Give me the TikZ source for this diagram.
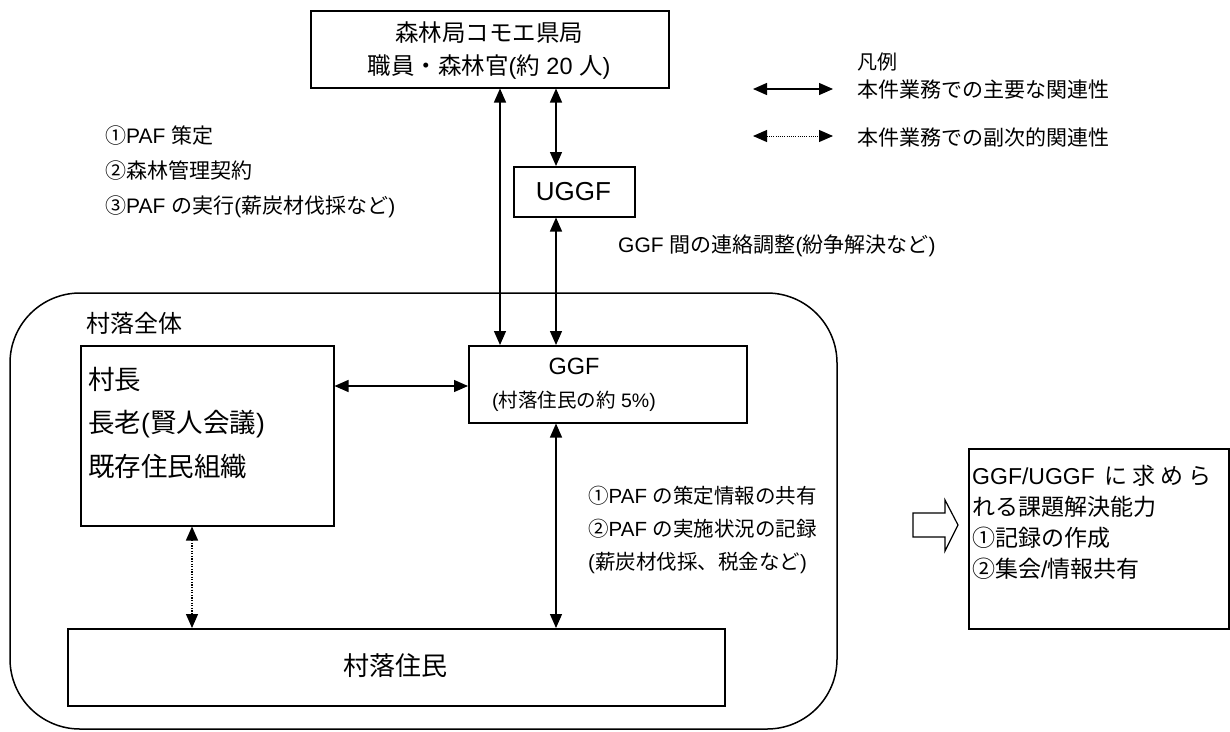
\documentclass[tikz,border=0pt]{standalone}
\usepackage{fontspec}
\setmainfont{Noto Sans CJK JP}
\newfontfamily\latfont{Liberation Sans}
\newcommand{\latn}[1]{{\latfont #1}}
\usetikzlibrary{arrows.meta}
\tikzset{
  box/.style={draw, line width=1.5pt, rectangle, inner sep=0pt, anchor=north west},
  arr/.style={line width=1.3pt, {Triangle[length=14pt,width=12pt]}-{Triangle[length=14pt,width=12pt]}},
  dotarr/.style={line width=1.3pt, dash pattern=on 1.3pt off 1.3pt, {Triangle[length=14pt,width=12pt]}-{Triangle[length=14pt,width=12pt]}},
  txt/.style={inner sep=0pt, anchor=west, align=left},
}
\begin{document}
\begin{tikzpicture}[x=1pt,y=-1pt]
\useasboundingbox (0,0) rectangle (1230,731);
% village frame
\draw[line width=1.5pt, rounded corners=70pt] (10,293) rectangle (837,729);
\node[txt, font=\fontsize{24}{28}\selectfont] (vall) at (86,323) {村落全体};
% boxes
\node[box, minimum width=358pt, minimum height=77pt] (top) at (310,10) {};
\node[inner sep=0pt, align=center, font=\fontsize{23.5}{33}\selectfont] (topt) at (489,51) {森林局コモエ県局\\職員・森林官\latn{(}約\latn{ 20 }人\latn{)}};
\node[box, minimum width=121pt, minimum height=50pt] (uggf) at (513,166) {};
\node[inner sep=0pt, font=\latfont\fontsize{26}{30}\selectfont] (uggft) at (573.5,192) {UGGF};
\node[box, minimum width=278pt, minimum height=77pt] (ggf) at (468,345) {};
\node[inner sep=0pt, font=\latfont\fontsize{23.5}{26}\selectfont] (ggft) at (574,366) {GGF};
\node[inner sep=0pt, font=\fontsize{19.5}{22}\selectfont] (ggft2) at (574,401) {\latn{(}村落住民の約\latn{ 5\%)}};
\node[box, minimum width=253pt, minimum height=180pt] (chief) at (80,345) {};
\node[txt, font=\fontsize{26.5}{43.5}\selectfont] (chieft) at (88,423) {村長\\長老\latn{(}賢人会議\latn{)}\\既存住民組織};
\node[box, minimum width=657pt, minimum height=77pt] (res) at (67,628) {};
\node[inner sep=0pt, font=\fontsize{26}{30}\selectfont] (rest) at (395,666) {村落住民};
\node[box, minimum width=260pt, minimum height=180pt] (right) at (968,448) {};
\node[txt, font=\fontsize{23}{31}\selectfont] (rightt) at (972,522) {\latn{GGF/UGGF}\hspace{10pt}に\hspace{5pt}求\hspace{5pt}め\hspace{5pt}ら\\れる課題解決能力\\①記録の作成\\②集会\latn{/}情報共有};
% texts
\node[txt, font=\fontsize{21}{35}\selectfont] (l1) at (105,172) {①\latn{PAF }策定\\②森林管理契約\\③\latn{PAF }の実行\latn{(}薪炭材伐採など\latn{)}};
\node[txt, font=\fontsize{21}{24}\selectfont] (l2) at (618,246) {\latn{GGF }間の連絡調整\latn{(}紛争解決など\latn{)}};
\node[txt, font=\fontsize{20.5}{33}\selectfont] (l3) at (588,530) {①\latn{PAF }の策定情報の共有\\②\latn{PAF }の実施状況の記録\\\latn{(}薪炭材伐採、税金など\latn{)}};
% legend
\node[txt, font=\fontsize{20}{22}\selectfont] (lg0) at (857,62) {凡例};
\node[txt, font=\fontsize{21}{24}\selectfont] (lg1) at (857,90) {本件業務での主要な関連性};
\node[txt, font=\fontsize{21}{24}\selectfont] (lg2) at (857,137) {本件業務での副次的関連性};
\coordinate (la1) at (753,89);
\coordinate (lb1) at (833,89);
\coordinate (la2) at (753,136);
\coordinate (lb2) at (833,136);
\draw[arr] (la1) -- (lb1);
\draw[dotarr, line width=1pt, dash pattern=on 1pt off 1.2pt] (la2) -- (lb2);
% connectors
\coordinate (xa) at (500,0);
\coordinate (xb) at (556,0);
\coordinate (xc) at (192,0);
\coordinate (yh) at (0,386);
\draw[arr] (xa |- top.south) -- (xa |- ggf.north);
\draw[arr] (xb |- top.south) -- (xb |- uggf.north);
\draw[arr] (xb |- uggf.south) -- (xb |- ggf.north);
\draw[arr] (chief.east |- yh) -- (ggf.west |- yh);
\draw[arr] (xb |- ggf.south) -- (xb |- res.north);
\draw[dotarr] (xc |- chief.south) -- (xc |- res.north);
% block arrow
\draw[line width=1.2pt, fill=white] (913,513) -- (945,513) -- (945,500) -- (958,525) -- (945,551) -- (945,537) -- (913,537) -- cycle;
\end{tikzpicture}
\end{document}
